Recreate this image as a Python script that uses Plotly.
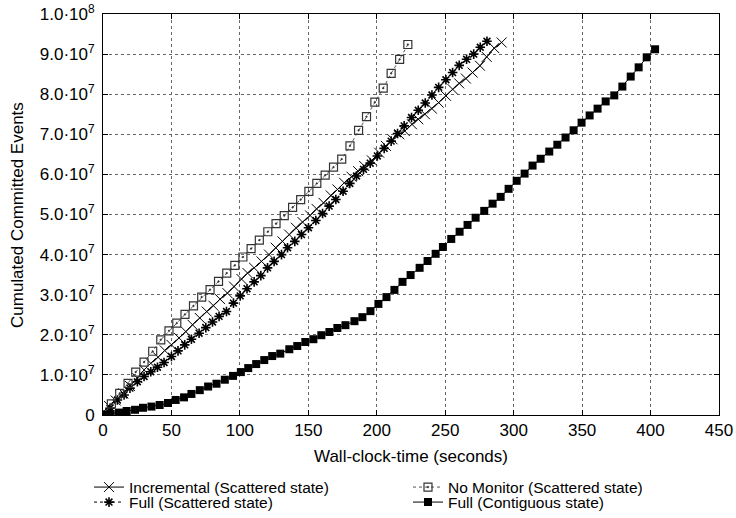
import plotly.graph_objects as go

SCALE = 1e7

inc_x = [0, 4.4, 9.3, 14.9, 19.7, 25.1, 30.0, 34.9, 40.2, 45.1, 50.0, 55.6, 60.5, 65.4, 70.7,
         75.8, 80.7, 85.5, 90.9, 95.8, 101.2, 105.6, 110.4, 115.8, 121.3, 126.2, 131.1, 136.0,
         140.9, 145.8, 151.3, 156.0, 161.1, 166.4, 171.3, 176.2, 181.6, 186.4, 190.8, 196.4,
         201.8, 206.7, 211.5, 216.4, 220.5, 225.7, 230.3, 235.2, 240.3, 245.2, 250.5, 255.4,
         260.2, 265.1, 270.0, 275.4, 280.3, 285.8, 291.2]
inc_y = [0, 0.225, 0.36, 0.54, 0.725, 0.92, 1.125, 1.29, 1.44, 1.61, 1.75, 1.92, 2.08, 2.25, 2.42,
         2.58, 2.725, 2.89, 3.04, 3.2, 3.39, 3.54, 3.67, 3.83, 4.0, 4.17, 4.33, 4.5, 4.67, 4.81,
         4.975, 5.14, 5.29, 5.475, 5.625, 5.79, 5.94, 6.08, 6.21, 6.35, 6.54, 6.71, 6.875, 7.0,
         7.08, 7.25, 7.375, 7.5, 7.64, 7.79, 7.96, 8.125, 8.27, 8.39, 8.54, 8.71, 8.93, 9.15, 9.29]

fs_x = [0, 5.1, 10.5, 15.4, 19.7, 25.1, 30.0, 34.9, 39.8, 44.6, 50.0, 54.8, 59.7, 64.6, 70.2,
        75.1, 80.0, 84.8, 90.2, 95.3, 100.2, 105.2, 110.4, 115.3, 120.2, 125.0, 130.4, 134.8,
        140.1, 145.0, 150.1, 155.5, 160.4, 165.2, 170.1, 175.4, 180.3, 185.2, 190.3, 195.2,
        200.4, 205.4, 210.5, 215.2, 220.0, 225.4, 230.3, 235.4, 240.3, 245.2, 250.5, 255.4,
        260.2, 265.6, 270.8, 275.6, 280.5]
fs_y = [0, 0.17, 0.375, 0.5, 0.67, 0.83, 0.96, 1.08, 1.19, 1.31, 1.46, 1.6, 1.75, 1.89, 2.04,
        2.18, 2.32, 2.46, 2.58, 2.79, 2.97, 3.15, 3.32, 3.475, 3.67, 3.83, 4.0, 4.17, 4.33, 4.5,
        4.67, 4.85, 5.025, 5.21, 5.375, 5.58, 5.775, 5.96, 6.125, 6.28, 6.46, 6.65, 6.83, 7.02,
        7.21, 7.42, 7.6, 7.78, 7.98, 8.17, 8.36, 8.54, 8.72, 8.87, 9.0, 9.17, 9.32]

nm_x = [0, 6.1, 12.2, 18.3, 23.9, 30.0, 36.3, 42.2, 48.2, 53.9, 59.9, 66.1, 72.1, 78.2, 84.4,
        90.4, 96.3, 102.2, 108.2, 114.2, 120.4, 126.4, 132.4, 138.5, 144.4, 150.4, 156.2, 162.3,
        168.4, 174.4, 180.4, 186.7, 192.5, 198.6, 204.7, 210.5, 216.7, 222.7]
nm_y = [0, 0.275, 0.54, 0.79, 1.07, 1.32, 1.59, 1.875, 2.1, 2.29, 2.51, 2.72, 2.94, 3.125, 3.33,
        3.54, 3.73, 3.94, 4.15, 4.36, 4.57, 4.77, 4.97, 5.18, 5.37, 5.575, 5.775, 5.98, 6.18,
        6.38, 6.71, 7.1, 7.44, 7.8, 8.15, 8.52, 8.87, 9.24]

fc_x = [0, 5.6, 11.7, 17.3, 23.4, 29.2, 35.4, 41.4, 47.5, 53.1, 59.2, 64.6, 70.7, 76.8, 82.9,
        89.0, 95.0, 100.7, 106.1, 111.9, 117.8, 123.6, 129.5, 136.1, 141.9, 147.8, 153.7, 159.5,
        165.4, 171.2, 177.1, 183.7, 189.5, 195.4, 201.2, 207.1, 212.9, 218.8, 224.7, 231.3,
        237.1, 243.0, 248.3, 254.4, 260.5, 266.3, 272.2, 278.5, 284.6, 290.5, 296.3, 302.2,
        308.0, 313.8, 319.7, 326.0, 331.9, 337.9, 343.8, 349.6, 355.5, 361.3, 367.2, 373.5,
        379.4, 385.5, 391.3, 397.2, 403.3]
fc_y = [0, 0.03, 0.06, 0.10, 0.13, 0.18, 0.21, 0.25, 0.30, 0.375, 0.44, 0.525, 0.62, 0.71, 0.78,
        0.88, 0.975, 1.07, 1.17, 1.27, 1.37, 1.47, 1.53, 1.64, 1.72, 1.82, 1.89, 1.99, 2.07,
        2.17, 2.24, 2.34, 2.44, 2.59, 2.77, 2.94, 3.12, 3.32, 3.49, 3.67, 3.84, 4.02, 4.19, 4.39,
        4.57, 4.74, 4.92, 5.09, 5.27, 5.44, 5.64, 5.84, 6.02, 6.22, 6.39, 6.57, 6.74, 6.92, 7.10,
        7.29, 7.47, 7.64, 7.82, 7.97, 8.19, 8.44, 8.67, 8.92, 9.12]

x_ticks = [0, 50, 100, 150, 200, 250, 300, 350, 400, 450]
y_ticks = [0, 1e7, 2e7, 3e7, 4e7, 5e7, 6e7, 7e7, 8e7, 9e7, 1e8]
y_ticktext = ["0", "1.0·10<sup>7</sup>", "2.0·10<sup>7</sup>", "3.0·10<sup>7</sup>",
              "4.0·10<sup>7</sup>", "5.0·10<sup>7</sup>", "6.0·10<sup>7</sup>",
              "7.0·10<sup>7</sup>", "8.0·10<sup>7</sup>", "9.0·10<sup>7</sup>",
              "1.0·10<sup>8</sup>"]
x_title = "Wall-clock-time (seconds)"
y_title = "Cumulated Committed Events"

FONT = "Liberation Sans, Arial, sans-serif"
FS = 17
W, H = 736, 518
L, R, T, B = 103, 17, 14, 103
PW, PH = W - L - R, H - T - B

fig = go.Figure()
fig.add_trace(go.Scatter(
    x=inc_x, y=[v * SCALE for v in inc_y], mode="lines+markers",
    name="Incremental (Scattered state)", legend="legend2",
    line=dict(color="black", width=1),
    marker=dict(symbol="x-thin-open", size=10, line=dict(color="black", width=1), color="black")))
fig.add_trace(go.Scatter(
    x=fs_x, y=[v * SCALE for v in fs_y], mode="lines+markers",
    name="Full (Scattered state)", legend="legend3",
    line=dict(color="black", width=1, dash="dot"),
    marker=dict(symbol="asterisk-open", size=8, color="black",
                line=dict(color="black", width=1.6))))
fig.add_trace(go.Scatter(
    x=nm_x, y=[v * SCALE for v in nm_y], mode="lines+markers",
    name="No Monitor (Scattered state)", legend="legend4",
    line=dict(color="#555555", width=1, dash="dot"),
    marker=dict(symbol="square-open-dot", size=8, color="#333333",
                line=dict(color="#333333", width=1.2))))
fig.add_trace(go.Scatter(
    x=fc_x, y=[v * SCALE for v in fc_y], mode="lines+markers",
    name="Full (Contiguous state)", legend="legend5",
    line=dict(color="black", width=1),
    marker=dict(symbol="square", size=8, color="black")))

axis_common = dict(
    showline=True, linecolor="black", linewidth=1, mirror="ticks",
    ticks="inside", ticklen=5, tickcolor="black",
    showgrid=True, gridcolor="#666666", griddash="dot", gridwidth=1,
    zeroline=False, tickfont=dict(family=FONT, size=FS, color="black"),
    automargin=False,
)

fig.update_xaxes(range=[0, 450], tickvals=x_ticks, **axis_common)
fig.update_yaxes(range=[0, 1e8], tickvals=y_ticks, ticktext=y_ticktext,
                 ticklabelstandoff=4, **axis_common)

fig.add_annotation(text=x_title, xref="paper", yref="paper",
                   x=0.5, y=(T + PH - 456) / PH, xanchor="center", yanchor="middle",
                   showarrow=False, font=dict(family=FONT, size=FS, color="black"))
fig.add_annotation(text=y_title, xref="paper", yref="paper",
                   x=(17 - L) / PW, y=(T + PH - 215) / PH, xanchor="center", yanchor="middle",
                   textangle=-90, showarrow=False,
                   font=dict(family=FONT, size=FS, color="black"))


def leg(xpx, center_y):
    return dict(orientation="v", xref="container", yref="container",
                xanchor="left", yanchor="top", x=xpx / W, y=1 - (center_y - 15.5) / H,
                itemwidth=30, font=dict(family=FONT, size=15.5, color="black"),
                bgcolor="rgba(0,0,0,0)", tracegroupgap=0)


fig.update_layout(
    width=W, height=H,
    margin=dict(l=L, r=R, t=T, b=B, autoexpand=False),
    plot_bgcolor="white", paper_bgcolor="white",
    font=dict(family=FONT, size=FS, color="black"),
    showlegend=True,
    legend2=leg(89, 486),
    legend3=leg(89, 501),
    legend4=leg(408, 486),
    legend5=leg(408, 501),
)

fig.write_html("out.html", config={"displayModeBar": False},
               post_script="document.body.style.margin='0';")
